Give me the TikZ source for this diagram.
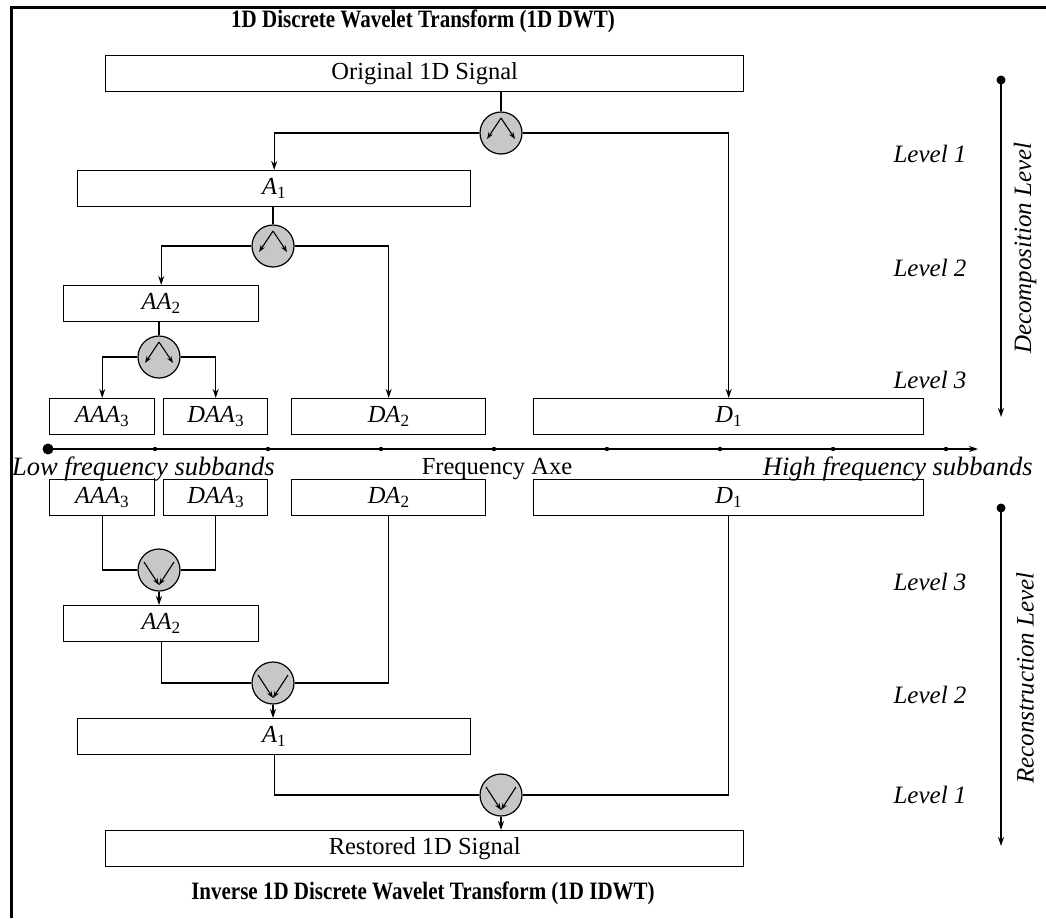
\documentclass[tikz,border=0pt]{standalone}
\usepackage{fontspec}
\setmainfont{Liberation Serif}
\newfontfamily\headfont{Liberation Serif}[FakeStretch=0.84]
\usetikzlibrary{arrows.meta,calc}

% italic band label with an upright subscript index
\newcommand{\bandlbl}[2]{\textit{#1}\textsubscript{#2}}

\tikzset{
  txt/.style={font=\fontsize{24.5}{28}\selectfont, inner sep=0pt},
  itxt/.style={font=\fontsize{25}{29}\selectfont\itshape, inner sep=0pt},
  axtxt/.style={font=\fontsize{26.5}{30}\selectfont\itshape, inner sep=0pt},
  btxt/.style={font=\headfont\fontsize{25}{29}\selectfont\bfseries, inner sep=0pt},
  band/.style={draw, line width=1.4pt, anchor=north west, minimum height=36pt,
    inner sep=0pt, font=\fontsize{24.5}{28}\selectfont},
  conn/.style={line width=1.2pt},
  arr/.style={line width=1.2pt, -{Stealth[length=9pt,width=6pt]}},
  filt/.style={circle, draw, line width=1.2pt, fill=black!22, minimum size=42pt, inner sep=0pt},
  split/.style={filt, path picture={
      \draw[line width=1.1pt, -{Stealth[length=7pt,width=5pt]}]
        ([shift={(0pt,15pt)}]path picture bounding box.center) --
        ([shift={(-14pt,-6pt)}]path picture bounding box.center);
      \draw[line width=1.1pt, -{Stealth[length=7pt,width=5pt]}]
        ([shift={(0pt,15pt)}]path picture bounding box.center) --
        ([shift={(14pt,-6pt)}]path picture bounding box.center);}},
  merge/.style={filt, path picture={
      \draw[line width=1.1pt, -{Stealth[length=7pt,width=5pt]}]
        ([shift={(-15pt,8pt)}]path picture bounding box.center) --
        ([shift={(0pt,-15pt)}]path picture bounding box.center);
      \draw[line width=1.1pt, -{Stealth[length=7pt,width=5pt]}]
        ([shift={(15pt,8pt)}]path picture bounding box.center) --
        ([shift={(0pt,-15pt)}]path picture bounding box.center);}},
}

\begin{document}
\begin{tikzpicture}[x=1pt, y=-1pt]
\useasboundingbox (0,0) rectangle (1046,918);

% partial frame (top and left edges)
\draw[line width=3pt] (1046,7) -- (11,7) -- (11,918);

% ---------------- decomposition ----------------
\node[btxt] (title) at (423,21) {1D Discrete Wavelet Transform (1D DWT)};

\node[band, minimum width=638pt] (orig) at (105,55) {Original 1D Signal};
\node[split] (s1) at (501,133) {};
\node[band, minimum width=393pt] (a1) at (77,170) {\bandlbl{A}{1}};
\node[split] (s2) at (273,246) {};
\node[band, minimum width=195pt] (aa2) at (63,285) {\bandlbl{AA}{2}};
\node[split] (s3) at (159,357) {};
\node[band, minimum width=105pt] (aaa3) at (49,398) {\bandlbl{AAA}{3}};
\node[band, minimum width=104pt] (daa3) at (163,398) {\bandlbl{DAA}{3}};
\node[band, minimum width=194pt] (da2) at (291,398) {\bandlbl{DA}{2}};
\node[band, minimum width=390pt] (d1) at (533,398) {\bandlbl{D}{1}};

\draw[conn] (s1 |- orig.south) -- (s1.north);
\draw[arr] (s1.west) -| (a1.north);
\draw[arr] (s1.east) -| (d1.north);
\draw[conn] (s2 |- a1.south) -- (s2.north);
\draw[arr] (s2.west) -| (aa2.north);
\draw[arr] (s2.east) -| (da2.north);
\draw[conn] (s3 |- aa2.south) -- (s3.north);
\draw[arr] (s3.west) -| (aaa3.north);
\draw[arr] (s3.east) -| (daa3.north);

% ---------------- frequency axis ----------------
\coordinate (ax0) at (48,449);
\coordinate (ax1) at (978,449);
\draw[arr] (ax0) -- (ax1);
\fill (ax0) circle (5.5pt);
\foreach \k in {0,...,7} \fill ({155+113*\k},449) circle (2.2pt);
\node[axtxt, anchor=west] (low) at (12,469) {Low frequency subbands};
\node[txt] (fax) at (497,469) {Frequency Axe};
\node[axtxt, anchor=east] (high) at (1033,469) {High frequency subbands};

% ---------------- reconstruction ----------------
\node[band, minimum width=105pt] (raaa3) at (49,479) {\bandlbl{AAA}{3}};
\node[band, minimum width=104pt] (rdaa3) at (163,479) {\bandlbl{DAA}{3}};
\node[band, minimum width=194pt] (rda2) at (291,479) {\bandlbl{DA}{2}};
\node[band, minimum width=390pt] (rd1) at (533,479) {\bandlbl{D}{1}};
\node[merge] (m3) at (159,570) {};
\node[band, minimum width=195pt] (raa2) at (63,605) {\bandlbl{AA}{2}};
\node[merge] (m2) at (273,683) {};
\node[band, minimum width=393pt] (ra1) at (77,718) {\bandlbl{A}{1}};
\node[merge] (m1) at (501,795) {};
\node[band, minimum width=638pt] (rest) at (105,830) {Restored 1D Signal};

\draw[conn] (raaa3.south) |- (m3.west);
\draw[conn] (rdaa3.south) |- (m3.east);
\draw[arr] (m3.south) -- (raa2.north -| m3);
\draw[conn] (raa2.south) |- (m2.west);
\draw[conn] (rda2.south) |- (m2.east);
\draw[arr] (m2.south) -- (ra1.north -| m2);
\draw[conn] (ra1.south) |- (m1.west);
\draw[conn] (rd1.south) |- (m1.east);
\draw[arr] (m1.south) -- (m1 |- rest.north);

\node[btxt] (title2) at (423,893) {Inverse 1D Discrete Wavelet Transform (1D IDWT)};

% ---------------- level indicators ----------------
\node[itxt] (l1) at (930,154) {Level 1};
\node[itxt] (l2) at (930,268) {Level 2};
\node[itxt] (l3) at (930,380) {Level 3};
\node[itxt] (r3) at (930,582) {Level 3};
\node[itxt] (r2) at (930,695) {Level 2};
\node[itxt] (r1) at (930,795) {Level 1};

\coordinate (dtop) at (1001,80);
\coordinate (dbot) at (1001,417);
\fill (dtop) circle (4.5pt);
\draw[arr] (dtop) -- (dbot);
\node[itxt, rotate=90] (dlab) at (1025,248) {Decomposition Level};

\coordinate (rtop) at (1001,508);
\coordinate (rbot) at (1001,846);
\fill (rtop) circle (4.5pt);
\draw[arr] (rtop) -- (rbot);
\node[itxt, rotate=90] (rlab) at (1025,678) {Reconstruction Level};
\end{tikzpicture}
\end{document}
